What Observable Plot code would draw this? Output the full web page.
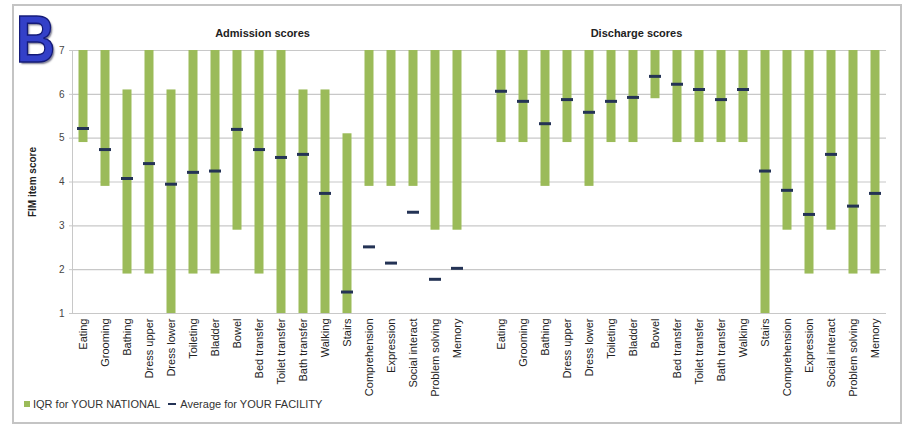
<!DOCTYPE html>
<html><head><meta charset="utf-8">
<script src="https://cdn.jsdelivr.net/npm/d3@7"></script>
<script src="https://cdn.jsdelivr.net/npm/@observablehq/plot@0.6"></script>
<style>
body{margin:0;background:#fff;font-family:"Liberation Sans",Arial,sans-serif;}
#wrap{position:relative;width:904px;height:425px;overflow:hidden;background:#fff;}
#frame{position:absolute;left:12px;top:4px;width:890px;height:420px;border:2px solid #c4c4c4;box-sizing:border-box;pointer-events:none;}
#chart{position:absolute;left:0;top:0;}
#logo{position:absolute;left:16px;top:6px;font:bold 66px "Liberation Sans",Arial,sans-serif;color:#3340c8;-webkit-text-stroke:1.5px #141a78;transform:scaleX(0.82);transform-origin:left top;text-shadow:2px 2px 2px rgba(0,0,40,0.5);line-height:1;}
#legend{position:absolute;left:24px;top:398px;font-size:11px;color:#333;display:flex;align-items:center;white-space:nowrap;}
.sw{display:inline-block;width:6px;height:6px;background:#9bbb59;margin-right:3px;}
.ln{display:inline-block;width:8px;height:2px;background:#243355;margin:0 4px 0 8px;}
</style></head>
<body>
<div id="wrap">
  <div id="chart"></div>
  <div id="logo">B</div>
  <div id="legend"><span class="sw"></span>IQR for YOUR NATIONAL<span class="ln"></span>Average for YOUR FACILITY</div>
  <div id="frame"></div>
</div>
<script>
const categories = ["Eating","Grooming","Bathing","Dress upper","Dress lower","Toileting","Bladder","Bowel","Bed transfer","Toilet transfer","Bath transfer","Walking","Stairs","Comprehension","Expression","Social interact","Problem solving","Memory"];
const panels = ["Admission scores","Discharge scores"];
const admLow  = [4.9,3.9,1.9,1.9,1.0,1.9,1.9,2.9,1.9,1.0,1.0,1.0,1.0,3.9,3.9,3.9,2.9,2.9];
const admHigh = [7,7,6.1,7,6.1,7,7,7,7,7,6.1,6.1,5.1,7,7,7,7,7];
const admAvg  = [5.22,4.74,4.08,4.42,3.95,4.22,4.25,5.2,4.74,4.56,4.63,3.74,1.49,2.52,2.15,3.31,1.78,2.03];
const disLow  = [4.9,4.9,3.9,4.9,3.9,4.9,4.9,5.9,4.9,4.9,4.9,4.9,1.0,2.9,1.9,2.9,1.9,1.9];
const disHigh = [7,7,7,7,7,7,7,7,7,7,7,7,7,7,7,7,7,7];
const disAvg  = [6.07,5.84,5.33,5.88,5.59,5.84,5.93,6.41,6.23,6.11,5.88,6.11,4.25,3.81,3.26,4.63,3.45,3.74];
const yTicks = [1,2,3,4,5,6,7];

const rows = [];
categories.forEach((c,i)=>rows.push({key:"A|"+c, low:admLow[i], high:admHigh[i], avg:admAvg[i]}));
categories.forEach((c,i)=>rows.push({key:"D|"+c, low:disLow[i], high:disHigh[i], avg:disAvg[i]}));
const domain = [...categories.map(c=>"A|"+c), "gap", ...categories.map(c=>"D|"+c)];
const titles = [
  {key:"A|Bed transfer", label:panels[0], top:7},
  {key:"D|Bladder", label:panels[1], top:7}
];

const chart = Plot.plot({
  width: 904, height: 400,
  marginLeft: 72, marginRight: 18, marginTop: 50, marginBottom: 87,
  style:{fontFamily:'"Liberation Sans", Arial, sans-serif', fontSize:"11px", color:"#333", background:"transparent", overflow:"visible"},
  x:{domain, padding:0, label:null, axis:null},
  y:{domain:[1,7], label:null, axis:null},
  marks:[
    Plot.gridY(yTicks, {stroke:"#c8c8c8", strokeOpacity:1, strokeWidth:1.2}),
    Plot.ruleX([0], {x: ()=>domain[0], stroke:"#c8c8c8", dx:-11, y1:1, y2:7}),
    Plot.axisY(yTicks, {tickSize:3, tickPadding:5, fontSize:10, stroke:"#c8c8c8", fill:"#444", label:null}),
    Plot.axisX({tickSize:0, tickPadding:5, tickRotate:-90, fontSize:11, fill:"#222", label:null,
      tickFormat: d => d === "gap" ? "" : d.split("|")[1]}),
    Plot.rectY(rows, {x:"key", y1:"low", y2:"high", fill:"#9bbb59", insetLeft:6.5, insetRight:6.5}),
    Plot.tickY(rows, {x:"key", y:"avg", stroke:"#243355", strokeWidth:3, insetLeft:5, insetRight:5}),
    Plot.text(titles, {x:"key", y:"top", text:"label", dx:3, dy:-17, fontWeight:"bold", fontSize:11, fill:"#222"}),
    Plot.text(["FIM item score"], {frameAnchor:"left", dx:-40, rotate:-90, textAnchor:"middle", text:d=>d, fontWeight:"bold", fontSize:10, fill:"#222"})
  ]
});
document.getElementById("chart").appendChild(chart);
</script>
</body></html>
